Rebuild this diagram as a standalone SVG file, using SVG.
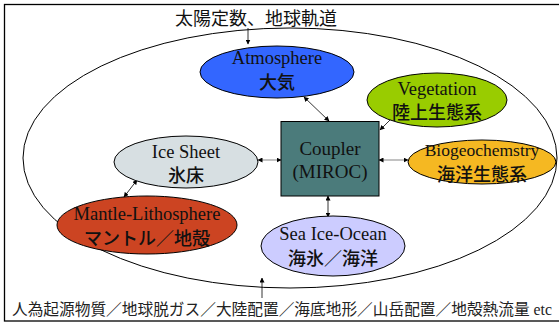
<svg xmlns="http://www.w3.org/2000/svg" width="559" height="325" viewBox="0 0 559 325">
<defs>
<marker id="ah" viewBox="0 0 10 10" refX="9" refY="5" markerWidth="5" markerHeight="5" orient="auto-start-reverse" markerUnits="userSpaceOnUse">
<path d="M0,0 L10,5 L0,10 z" fill="#000"/>
</marker>
<style>
.lat{font-family:"Liberation Serif","Noto Sans CJK JP",serif;font-size:18.5px;fill:#111;text-anchor:middle}
.jp{font-family:"Noto Sans CJK JP","Liberation Sans",sans-serif;font-size:18px;font-weight:500;fill:#111;text-anchor:middle}
.node{stroke:#000;stroke-width:1}
.con{stroke:#000;stroke-width:0.8;fill:none}
.gcon{stroke:#999;stroke-width:1.2;fill:none}
</style>
</defs>
<rect width="559" height="325" fill="#fff"/>
<rect x="4.5" y="4.5" width="560" height="316.5" fill="none" stroke="#000" stroke-width="1.3"/>
<ellipse cx="290" cy="158" rx="267" ry="130" fill="none" stroke="#000" stroke-width="1"/>
<text x="256" y="25" class="jp" style="font-size:18px;font-weight:400">太陽定数、地球軌道</text>
<g id="connectors">
<line class="con" x1="248" y1="28" x2="248" y2="44" marker-end="url(#ah)"/>
<line class="con" x1="304" y1="97" x2="329" y2="121" marker-start="url(#ah)" marker-end="url(#ah)"/>
<line class="con" x1="398" y1="112" x2="380" y2="130" marker-start="url(#ah)" marker-end="url(#ah)"/>
<line class="gcon" x1="258" y1="160" x2="281" y2="160" marker-start="url(#ah)" marker-end="url(#ah)"/>
<line class="gcon" x1="379" y1="160" x2="408" y2="160" marker-start="url(#ah)" marker-end="url(#ah)"/>
<line class="con" x1="328" y1="196" x2="328" y2="217" marker-start="url(#ah)" marker-end="url(#ah)"/>
<line class="con" x1="137" y1="180" x2="124" y2="197" marker-start="url(#ah)" marker-end="url(#ah)"/>
<line class="con" x1="262" y1="298" x2="262" y2="278" marker-end="url(#ah)"/>
</g>
<g id="atmosphere">
<ellipse class="node" cx="277" cy="72" rx="77" ry="26" fill="#3366FF"/>
<text class="lat" x="277" y="64">Atmosphere</text>
<text class="jp" x="277" y="89">大気</text>
</g>
<g id="vegetation">
<ellipse class="node" cx="437" cy="100" rx="70" ry="27" fill="#99CC00"/>
<text class="lat" x="437" y="95">Vegetation</text>
<text class="jp" x="437" y="119">陸上生態系</text>
</g>
<g id="icesheet">
<ellipse class="node" cx="186" cy="162" rx="72" ry="26" fill="#D7DFE2"/>
<text class="lat" x="186" y="158">Ice Sheet</text>
<text class="jp" x="186" y="182">氷床</text>
</g>
<g id="coupler">
<rect class="node" x="281" y="121.5" width="98" height="74.5" fill="#4B7B7B"/>
<text class="lat" x="330" y="155" style="font-size:19px">Coupler</text>
<text class="lat" x="330" y="178" style="font-size:19px">(MIROC)</text>
</g>
<g id="biogeochemistry">
<ellipse class="node" cx="482" cy="162" rx="74" ry="22" fill="#F5B822"/>
<text class="lat" x="482" y="156" style="font-size:17.5px">Biogeochemstry</text>
<text class="jp" x="482" y="181">海洋生態系</text>
</g>
<g id="mantle">
<ellipse class="node" cx="147" cy="225" rx="90" ry="29" fill="#CC4422"/>
<text class="lat" x="147" y="220">Mantle-Lithosphere</text>
<text class="jp" x="147" y="245">マントル／地殻</text>
</g>
<g id="seaice">
<ellipse class="node" cx="333" cy="246" rx="72" ry="30" fill="#CCCCFF"/>
<text class="lat" x="333" y="240">Sea Ice-Ocean</text>
<text class="jp" x="333" y="265">海氷／海洋</text>
</g>
<text x="12" y="315" style="font-family:'Noto Sans CJK JP','Liberation Sans',sans-serif;font-size:15.7px;fill:#222">人為起源物質／地球脱ガス／大陸配置／海底地形／山岳配置／地殻熱流量<tspan style="font-family:'Liberation Serif',serif"> etc</tspan></text>
</svg>
